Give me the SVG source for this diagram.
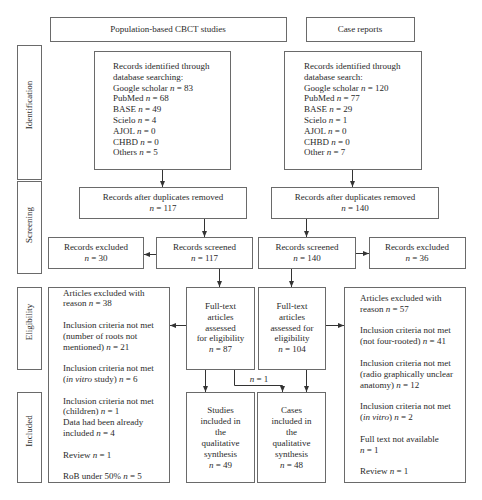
<svg xmlns="http://www.w3.org/2000/svg" width="482" height="500" viewBox="0 0 482 500">
<style>
rect.b{fill:#fff;stroke:#6a6a6a;stroke-width:1}
text{font-family:"Liberation Serif","Times New Roman",serif;font-size:9px;fill:#2a2a2a}
.c{text-anchor:middle}
.i{font-style:italic}
.conn line,.conn polyline{stroke:#333;stroke-width:1;fill:none}
</style>
<defs>
<marker id="ah" viewBox="0 0 6 5" refX="6" refY="2.5" markerWidth="6" markerHeight="5" orient="auto" markerUnits="userSpaceOnUse"><path d="M0,0 L6,2.5 L0,5 z" fill="#333"/></marker>
</defs>
<rect width="482" height="500" fill="#fff"/>

<g id="hdr-pop"><rect class="b" x="50.5" y="17.5" width="236" height="24"/><text class="c" x="168" y="31.5">Population-based CBCT studies</text></g>
<g id="hdr-case"><rect class="b" x="306.5" y="17.5" width="108" height="24"/><text class="c" x="360" y="31.5">Case reports</text></g>

<g id="lab-ident"><rect class="b" x="17.5" y="45.5" width="24" height="134"/><text class="c" transform="translate(32,105) rotate(-90)">Identification</text></g>
<g id="lab-screen"><rect class="b" x="17.5" y="181.5" width="24" height="92"/><text class="c" transform="translate(32,225) rotate(-90)">Screening</text></g>
<g id="lab-elig"><rect class="b" x="17.5" y="287.5" width="24" height="82"/><text class="c" transform="translate(32,322) rotate(-90)">Eligibility</text></g>
<g id="lab-incl"><rect class="b" x="17.5" y="392.5" width="24" height="90"/><text class="c" transform="translate(32,431) rotate(-90)">Included</text></g>

<g id="ident-left"><rect class="b" x="94.5" y="51.5" width="136" height="118"/>
<text x="113" y="69">Records identified through</text>
<text x="113" y="79.8">database searching:</text>
<text x="113" y="90.6">Google scholar <tspan class="i">n</tspan> = 83</text>
<text x="113" y="101.4">PubMed <tspan class="i">n</tspan> = 68</text>
<text x="113" y="112.2">BASE <tspan class="i">n</tspan> = 49</text>
<text x="113" y="123">Scielo <tspan class="i">n</tspan> = 4</text>
<text x="113" y="133.8">AJOL <tspan class="i">n</tspan> = 0</text>
<text x="113" y="144.6">CHBD <tspan class="i">n</tspan> = 0</text>
<text x="113" y="155.4">Others <tspan class="i">n</tspan> = 5</text>
</g>
<g id="ident-right"><rect class="b" x="284.5" y="51.5" width="137" height="118"/>
<text x="304" y="69">Records identified through</text>
<text x="304" y="79.8">database search:</text>
<text x="304" y="90.6">Google scholar <tspan class="i">n</tspan> = 120</text>
<text x="304" y="101.4">PubMed <tspan class="i">n</tspan> = 77</text>
<text x="304" y="112.2">BASE <tspan class="i">n</tspan> = 29</text>
<text x="304" y="123">Scielo <tspan class="i">n</tspan> = 1</text>
<text x="304" y="133.8">AJOL <tspan class="i">n</tspan> = 0</text>
<text x="304" y="144.6">CHBD <tspan class="i">n</tspan> = 0</text>
<text x="304" y="155.4">Other <tspan class="i">n</tspan> = 7</text>
</g>

<g id="dup-left"><rect class="b" x="79.5" y="187.5" width="167" height="31"/>
<text class="c" x="163" y="199.8">Records after duplicates removed</text>
<text class="c" x="163" y="210.5"><tspan class="i">n</tspan> = 117</text></g>
<g id="dup-right"><rect class="b" x="271.5" y="187.5" width="167" height="31"/>
<text class="c" x="355" y="199.8">Records after duplicates removed</text>
<text class="c" x="355" y="210.5"><tspan class="i">n</tspan> = 140</text></g>

<g id="excl-left"><rect class="b" x="48.5" y="237.5" width="95" height="31"/>
<text class="c" x="96" y="249.8">Records excluded</text>
<text class="c" x="96" y="260.5"><tspan class="i">n</tspan> = 30</text></g>
<g id="scr-left"><rect class="b" x="156.5" y="237.5" width="96" height="31"/>
<text class="c" x="204.5" y="249.8">Records screened</text>
<text class="c" x="204.5" y="260.5"><tspan class="i">n</tspan> = 117</text></g>
<g id="scr-right"><rect class="b" x="258.5" y="237.5" width="97" height="31"/>
<text class="c" x="307" y="249.8">Records screened</text>
<text class="c" x="307" y="260.5"><tspan class="i">n</tspan> = 140</text></g>
<g id="excl-right"><rect class="b" x="369.5" y="237.5" width="96" height="31"/>
<text class="c" x="417" y="249.8">Records excluded</text>
<text class="c" x="417" y="260.5"><tspan class="i">n</tspan> = 36</text></g>

<g id="artexcl-left"><rect class="b" x="48.5" y="287.5" width="121" height="195"/>
<text x="63" y="295.5">Articles excluded with</text>
<text x="63" y="306.3">reason <tspan class="i">n</tspan> = 38</text>
<text x="63" y="327.9">Inclusion criteria not met</text>
<text x="63" y="338.7">(number of roots not</text>
<text x="63" y="349.5">mentioned) <tspan class="i">n</tspan> = 21</text>
<text x="63" y="371.1">Inclusion criteria not met</text>
<text x="63" y="381.9">(<tspan class="i">in vitro</tspan> study) <tspan class="i">n</tspan> = 6</text>
<text x="63" y="403.5">Inclusion criteria not met</text>
<text x="63" y="414.3">(children) <tspan class="i">n</tspan> = 1</text>
<text x="63" y="425.1">Data had been already</text>
<text x="63" y="435.9">included <tspan class="i">n</tspan> = 4</text>
<text x="63" y="457.5">Review <tspan class="i">n</tspan> = 1</text>
<text x="63" y="479.1">RoB under 50% <tspan class="i">n</tspan> = 5</text>
</g>
<g id="ft-left"><rect class="b" x="186.5" y="287.5" width="68" height="82"/>
<text class="c" x="220.5" y="308.7">Full-text</text>
<text class="c" x="220.5" y="319.6">articles</text>
<text class="c" x="220.5" y="330.5">assessed</text>
<text class="c" x="220.5" y="341.4">for eligibility</text>
<text class="c" x="220.5" y="352.3"><tspan class="i">n</tspan> = 87</text></g>
<g id="ft-right"><rect class="b" x="258.5" y="287.5" width="67" height="82"/>
<text class="c" x="292" y="308.7">Full-text</text>
<text class="c" x="292" y="319.6">articles</text>
<text class="c" x="292" y="330.5">assessed for</text>
<text class="c" x="292" y="341.4">eligibility</text>
<text class="c" x="292" y="352.3"><tspan class="i">n</tspan> = 104</text></g>
<g id="artexcl-right"><rect class="b" x="344.5" y="287.5" width="121" height="195"/>
<text x="360" y="300.9">Articles excluded with</text>
<text x="360" y="311.7">reason <tspan class="i">n</tspan> = 57</text>
<text x="360" y="333.3">Inclusion criteria not met</text>
<text x="360" y="344.1">(not four-rooted) <tspan class="i">n</tspan> = 41</text>
<text x="360" y="366.1">Inclusion criteria not met</text>
<text x="360" y="376.9">(radio graphically unclear</text>
<text x="360" y="387.7">anatomy) <tspan class="i">n</tspan> = 12</text>
<text x="360" y="409.3">Inclusion criteria not met</text>
<text x="360" y="420.1">(<tspan class="i">in vitro</tspan>) <tspan class="i">n</tspan> = 2</text>
<text x="360" y="441.7">Full text not available</text>
<text x="360" y="452.5"><tspan class="i">n</tspan> = 1</text>
<text x="360" y="474.1">Review <tspan class="i">n</tspan> = 1</text>
</g>

<g id="inc-studies"><rect class="b" x="186.5" y="392.5" width="68" height="90"/>
<text class="c" x="220.5" y="413">Studies</text>
<text class="c" x="220.5" y="423.9">included in</text>
<text class="c" x="220.5" y="434.8">the</text>
<text class="c" x="220.5" y="445.7">qualitative</text>
<text class="c" x="220.5" y="456.6">synthesis</text>
<text class="c" x="220.5" y="467.5"><tspan class="i">n</tspan> = 49</text></g>
<g id="inc-cases"><rect class="b" x="257.5" y="392.5" width="68" height="90"/>
<text class="c" x="291.5" y="413">Cases</text>
<text class="c" x="291.5" y="423.9">included in</text>
<text class="c" x="291.5" y="434.8">the</text>
<text class="c" x="291.5" y="445.7">qualitative</text>
<text class="c" x="291.5" y="456.6">synthesis</text>
<text class="c" x="291.5" y="467.5"><tspan class="i">n</tspan> = 48</text></g>

<g id="connectors" class="conn">
<line x1="162.5" y1="170" x2="162.5" y2="187" marker-end="url(#ah)"/>
<line x1="352.5" y1="170" x2="352.5" y2="187" marker-end="url(#ah)"/>
<line x1="204.5" y1="219" x2="204.5" y2="237" marker-end="url(#ah)"/>
<line x1="306.5" y1="219" x2="306.5" y2="237" marker-end="url(#ah)"/>
<line x1="156" y1="254.5" x2="144" y2="254.5" marker-end="url(#ah)"/>
<line x1="356" y1="253.5" x2="369" y2="253.5" marker-end="url(#ah)"/>
<line x1="219.5" y1="269" x2="219.5" y2="287" marker-end="url(#ah)"/>
<line x1="291.5" y1="269" x2="291.5" y2="287" marker-end="url(#ah)"/>
<line x1="186" y1="325.5" x2="170" y2="325.5" marker-end="url(#ah)"/>
<line x1="326" y1="325.5" x2="344" y2="325.5" marker-end="url(#ah)"/>
<line x1="205.5" y1="370" x2="205.5" y2="392" marker-end="url(#ah)"/>
<line x1="306.5" y1="370" x2="306.5" y2="392" marker-end="url(#ah)"/>
<polyline points="234.5,370 234.5,385.5 282.5,385.5 282.5,392" marker-end="url(#ah)"/>
</g>
<text class="c" x="259" y="382"><tspan class="i">n</tspan> = 1</text>
</svg>
